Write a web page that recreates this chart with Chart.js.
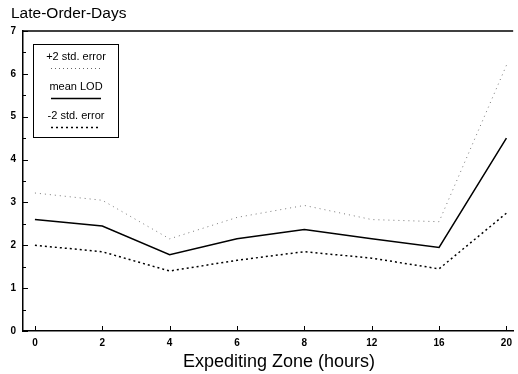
<!DOCTYPE html>
<html lang="en">
<head>
    <meta charset="UTF-8">
    <title>Late-Order-Days</title>
    <script src="https://cdn.jsdelivr.net/npm/chart.js"></script>
    <style>
        body { margin: 0; padding: 0; background: #fff; }
        #wrap { width: 518px; height: 374px; position: relative; }
    </style>
</head>
<body>
    <div id="wrap"><canvas id="lodChart"></canvas></div>
    <script>
        const zones = ['0', '2', '4', '6', '8', '12', '16', '20'];
        const upperErr = [3.22, 3.05, 2.15, 2.65, 2.93, 2.6, 2.55, 6.2];
        const meanLod = [2.6, 2.45, 1.78, 2.15, 2.37, 2.15, 1.95, 4.5];
        const lowerErr = [2.0, 1.85, 1.4, 1.65, 1.85, 1.7, 1.45, 2.75];
        const yTicks = [0, 1, 2, 3, 4, 5, 6, 7];

        const FONT = '"Liberation Sans", Arial, sans-serif';
        const toPoints = arr => arr.map((v, i) => ({ x: i, y: v }));

        // titles, top frame line, inward tick marks and the boxed legend
        const frameAndLegend = {
            id: 'frameAndLegend',
            afterDraw(chart) {
                const { ctx, chartArea, scales } = chart;
                ctx.save();
                ctx.fillStyle = '#000';
                ctx.font = '15.5px ' + FONT;
                ctx.textAlign = 'left';
                ctx.textBaseline = 'middle';
                ctx.fillText('Late-Order-Days', 11, 14);

                ctx.font = '18px ' + FONT;
                ctx.textAlign = 'center';
                ctx.fillText('Expediting Zone (hours)', 279, 362);

                ctx.strokeStyle = '#000';
                ctx.lineWidth = 1.5;
                ctx.beginPath();
                ctx.moveTo(chartArea.left, chartArea.top);
                ctx.lineTo(chartArea.right, chartArea.top);
                ctx.stroke();

                ctx.lineWidth = 1;
                ctx.beginPath();
                yTicks.forEach(v => {
                    const y = Math.round(scales.y.getPixelForValue(v)) + 0.5;
                    ctx.moveTo(chartArea.left, y);
                    ctx.lineTo(chartArea.left + 5, y);
                    if (v < 7) {
                        const yh = Math.round(scales.y.getPixelForValue(v + 0.5)) + 0.5;
                        ctx.moveTo(chartArea.left, yh);
                        ctx.lineTo(chartArea.left + 3, yh);
                    }
                });
                zones.forEach((z, i) => {
                    const x = Math.round(scales.x.getPixelForValue(i)) + 0.5;
                    ctx.moveTo(x, chartArea.bottom);
                    ctx.lineTo(x, chartArea.bottom - 5);
                });
                ctx.stroke();

                const bx = 33.5, by = 44.5, bw = 85, bh = 93;
                ctx.strokeRect(bx, by, bw, bh);
                ctx.font = '11px ' + FONT;
                const cx = 76;
                const items = [
                    { text: '+2 std. error', ty: 57, ly: 68.5, dash: [1, 3], color: '#666', w: 1 },
                    { text: 'mean LOD', ty: 87, ly: 98.5, dash: [], color: '#000', w: 1.3 },
                    { text: '-2 std. error', ty: 116, ly: 127.5, dash: [2, 3], color: '#000', w: 1.3 }
                ];
                items.forEach(it => {
                    ctx.fillText(it.text, cx, it.ty);
                    ctx.beginPath();
                    ctx.setLineDash(it.dash);
                    ctx.strokeStyle = it.color;
                    ctx.lineWidth = it.w;
                    ctx.moveTo(cx - 25, it.ly);
                    ctx.lineTo(cx + 25, it.ly);
                    ctx.stroke();
                    ctx.setLineDash([]);
                });
                ctx.restore();
            }
        };

        new Chart(document.getElementById('lodChart'), {
            type: 'line',
            data: {
                datasets: [
                    {
                        label: '+2 std. error',
                        data: toPoints(upperErr),
                        borderColor: '#777',
                        borderWidth: 1,
                        borderDash: [1, 4],
                        pointRadius: 0,
                        tension: 0
                    },
                    {
                        label: 'mean LOD',
                        data: toPoints(meanLod),
                        borderColor: '#000',
                        borderWidth: 1.5,
                        pointRadius: 0,
                        tension: 0
                    },
                    {
                        label: '-2 std. error',
                        data: toPoints(lowerErr),
                        borderColor: '#000',
                        borderWidth: 1.5,
                        borderDash: [2, 3],
                        pointRadius: 0,
                        tension: 0
                    }
                ]
            },
            options: {
                responsive: true,
                maintainAspectRatio: false,
                animation: false,
                layout: { padding: { left: 0, right: 1, top: 31, bottom: 1 } },
                plugins: {
                    legend: { display: false },
                    tooltip: { enabled: false },
                    title: { display: false }
                },
                scales: {
                    x: {
                        type: 'linear',
                        min: -0.177,
                        max: 7.1,
                        afterBuildTicks: axis => {
                            axis.ticks = zones.map((z, i) => ({ value: i }));
                        },
                        afterFit: axis => { axis.height = 42; },
                        ticks: {
                            autoSkip: false,
                            maxRotation: 0,
                            color: '#000',
                            padding: 6,
                            font: { family: FONT, size: 10, weight: 'bold' },
                            callback: v => zones[v]
                        },
                        grid: { display: false, drawTicks: false, tickLength: 0 },
                        border: { display: true, color: '#000', width: 1.5 }
                    },
                    y: {
                        min: 0,
                        max: 7,
                        afterBuildTicks: axis => {
                            axis.ticks = yTicks.map(v => ({ value: v }));
                        },
                        afterFit: axis => { axis.width = 23; },
                        ticks: {
                            color: '#000',
                            padding: 7,
                            font: { family: FONT, size: 10, weight: 'bold' }
                        },
                        grid: { display: false, drawTicks: false, tickLength: 0 },
                        border: { display: true, color: '#000', width: 1.5 }
                    }
                }
            },
            plugins: [frameAndLegend]
        });
    </script>
</body>
</html>
